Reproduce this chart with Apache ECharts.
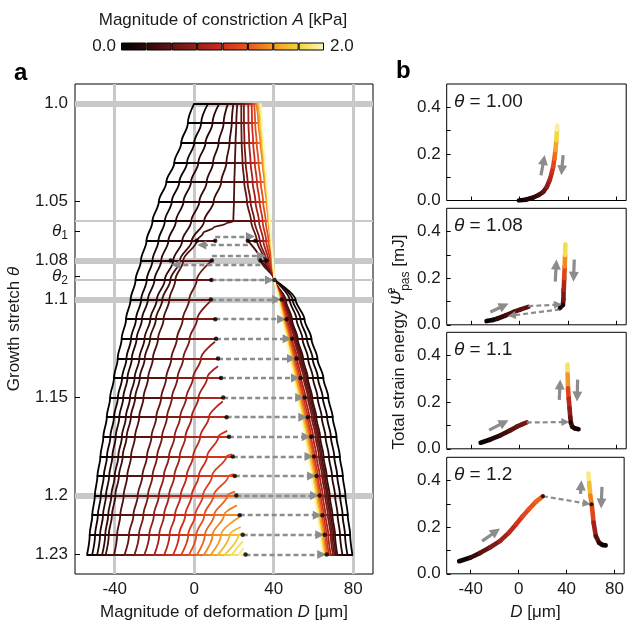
<!DOCTYPE html>
<html><head><meta charset="utf-8">
<script src="https://cdn.jsdelivr.net/npm/echarts@6.0.0/dist/echarts.min.js"></script>
<style>html,body{margin:0;padding:0;background:#fff;}#chart{width:627px;height:626px;}</style>
</head><body><div id="chart"></div>
<script>
const FONT = '"Liberation Sans", Arial, Helvetica, sans-serif';

// ---------------- colour scale (A in kPa) ----------------
const cmapA = [0, 0.25, 0.5, 0.75, 1.0, 1.25, 1.5, 1.75, 2.0];
const cmapHex = ['#000000', '#2e0908', '#621512', '#9a2019', '#d02c1c', '#e8561c', '#f39a24', '#f3d534', '#fbf6be'];
const cbEdges = [0, 0.25, 0.5, 0.75, 1.0, 1.25, 1.5, 1.75, 2.0];

// ---------------- panel a : rows of growth stretch ----------------
const thetaRows = [1.00,1.01,1.02,1.03,1.04,1.05,1.06,1.07,1.08,1.09,1.10,1.11,1.12,1.13,1.14,1.15,1.16,1.17,1.18,1.19,1.20,1.21,1.22,1.23];

// left / upper branch: one curve per constriction magnitude A
const leftA = [0, 0.1, 0.2, 0.27, 0.33, 0.4, 0.5, 0.6, 0.7, 0.8, 0.9, 1.0, 1.1, 1.2, 1.3, 1.4, 1.5, 1.6, 1.7, 1.8, 1.9];
const leftStart = [0, 0, 0, 0, 0, 0, 9, 11, 13, 14, 16, 17, 18, 19, 20, 21, 22, 22, 22, 23, 23];
const leftTip = [null, null, null, null, null, null,
  [8.5, 1.0805], [8.0, 1.101], [10.5, 1.1215], [12.0, 1.134], [14.4, 1.152], [16.6, 1.167], [18.9, 1.179],
  [19.9, 1.189], [20.6, 1.198], [21.5, 1.205], [22.6, 1.211], [23.4, 1.216], [23.9, 1.2195], [24.4, 1.2233], [24.9, 1.2267]];
const leftD = [
  [0, -3.2, -6.5, -10, -14, -17.8, -21, -24, -26.8, -29.5, -32, -34.3, -36.5, -38.5, -40.4, -42.3, -44, -45.7, -47.2, -48.7, -50, -51.3, -52.6, -53.9],
  [7, 3.5, 0, -3.6, -7.5, -11.3, -14.8, -18, -21, -23.9, -26.7, -29.3, -31.8, -34.1, -36.3, -38.4, -40.4, -42.2, -43.9, -45.5, -47, -48.5, -49.9, -51.3],
  [12.6, 9.2, 5.7, 2.1, -1.6, -5.4, -9.2, -13, -16.6, -20, -23.3, -26.3, -29, -31.4, -33.6, -35.7, -37.7, -39.5, -41.2, -42.8, -44.4, -45.9, -47.4, -48.8],
  [17, 14.8, 12.3, 9.5, 6.3, 2.6, -1.5, -6, -10.5, -14.8, -18.8, -22.1, -25, -27.6, -30, -32.3, -34.4, -36.4, -38.2, -40, -41.7, -43.3, -44.8, -46.3],
  [19.7, 18.9, 17.8, 16.2, 13.6, 9.8, 5, -1.2, -7.2, -12, -16, -19.3, -22.2, -24.9, -27.4, -29.7, -31.9, -34, -36, -37.9, -39.7, -41.4, -43, -44.5],
  [21.7, 21.2, 20.8, 20.5, 20.2, 20, 19.7, 1.3, -5.5, -9.5, -12.5, -15.4, -18.2, -20.8, -23.2, -25.5, -27.7, -29.8, -31.8, -33.7, -35.5, -37.2, -38.8, -40.3],
  [1.3, -2.5, -5.75, -8.7, -11.5, -14.1, -16.6, -19.1, -21.5, -23.8, -26.1, -28.4, -30.6, -32.8, -35],
  [1.5, -2.3, -5.5, -8.4, -11.2, -13.7, -16.2, -18.7, -21, -23.3, -25.6, -27.8, -30],
  [3.4, -0.6, -4.0, -7.1, -9.9, -12.7, -15.3, -17.8, -20.3, -22.6, -25],
  [6.5, 2.2, -1.3, -4.4, -7.3, -10, -12.7, -15.2, -17.6, -20],
  [7.4, 3.0, -0.6, -3.8, -6.8, -9.7, -12.4, -15],
  [12.2, 6.5, 2.3, -1.3, -4.5, -7.6, -10.5],
  [16.2, 9.0, 4.4, 0.5, -3.0, -6.4],
  [17.2, 9.8, 5.1, 1.1, -2.5],
  [16.7, 10.0, 5.4, 1.5],
  [15.0, 9.3, 5.0],
  [13.5, 8.5],
  [17.8, 12],
  [22.3, 15.5],
  [19],
  [22.5]
];
const bendCurve = 5;
const bendPts = [[16, 1.0612], [9.6, 1.0633], [4.5, 1.066]];

// right branch
const rightA = [0, 0.1, 0.2, 0.3, 0.4, 0.5, 0.6, 0.8, 1.0, 1.2, 1.4, 1.6, 1.8, 2.0];
const rightStart = [9, 9, 9, 8, 7, 0, 0, 0, 0, 0, 0, 0, 0, 0];
const rightD = [
  [40.4, 51, 55.5, 59, 62, 65, 67.5, 69.7, 71.6, 73.3, 74.8, 76.1, 77.3, 78.5, 79.6],
  [40.4, 49.5, 53.5, 56.7, 59.6, 62.3, 64.7, 66.9, 68.8, 70.5, 72, 73.4, 74.7, 75.9, 77.1],
  [40.4, 48, 51.5, 54.5, 57.3, 59.8, 62.1, 64.2, 66.1, 67.8, 69.4, 70.9, 72.2, 73.4, 74.6],
  [33.3, 40.4, 46, 49.2, 52.1, 54.8, 57.2, 59.4, 61.5, 63.4, 65.1, 66.7, 68.2, 69.6, 70.9, 72],
  [27, 33.5, 40.4, 45.6, 48.7, 51.5, 54.1, 56.5, 58.7, 60.7, 62.6, 64.3, 65.9, 67.4, 68.8, 70.2, 71.3],
  [23.7, 23.72, 23.88, 24.32, 25.17, 26.56, 28.64, 31.55, 35.42, 40.4, 45.3, 48.2, 50.9, 53.5, 55.8, 57.9, 60.0, 61.9, 63.6, 65.2, 66.7, 68.1, 69.4, 70.6],
  [25, 25.05, 25.31, 25.89, 26.86, 28.34, 30.37, 33.01, 36.33, 40.4, 44.9, 47.7, 50.4, 52.8, 55.1, 57.2, 59.2, 61.1, 62.8, 64.4, 65.9, 67.3, 68.7, 69.8],
  [27.2, 27.31, 27.68, 28.37, 29.42, 30.82, 32.61, 34.8, 37.39, 40.4, 44.3, 47.0, 49.4, 51.8, 53.9, 56.0, 58.0, 59.9, 61.6, 63.2, 64.7, 66.1, 67.5, 68.7],
  [28.9, 29.12, 29.67, 30.49, 31.57, 32.89, 34.44, 36.21, 38.2, 40.4, 43.9, 46.4, 48.7, 51.0, 53.1, 55.1, 57.1, 58.9, 60.6, 62.2, 63.7, 65.2, 66.6, 67.8],
  [30.2, 30.67, 31.44, 32.39, 33.47, 34.68, 35.98, 37.38, 38.85, 40.4, 43.6, 45.9, 48.2, 50.3, 52.4, 54.4, 56.3, 58.2, 59.9, 61.5, 63.0, 64.4, 65.8, 67.1],
  [31.3, 32.31, 33.32, 34.33, 35.34, 36.36, 37.37, 38.38, 39.39, 40.4, 43.2, 45.4, 47.6, 49.7, 51.7, 53.7, 55.7, 57.5, 59.2, 60.8, 62.3, 63.8, 65.1, 66.5],
  [32.2, 33.11, 34.02, 34.93, 35.84, 36.76, 37.67, 38.58, 39.49, 40.4, 42.9, 45.0, 47.2, 49.2, 51.2, 53.1, 55.0, 56.9, 58.6, 60.2, 61.7, 63.1, 64.5, 65.9],
  [32.8, 33.64, 34.49, 35.33, 36.18, 37.02, 37.87, 38.71, 39.56, 40.4, 42.7, 44.6, 46.7, 48.7, 50.6, 52.5, 54.4, 56.2, 57.9, 59.5, 61.0, 62.5, 63.9, 65.3],
  [33.4, 34.18, 34.96, 35.73, 36.51, 37.29, 38.07, 38.84, 39.62, 40.4, 42.4, 44.3, 46.3, 48.2, 50.1, 52, 53.9, 55.7, 57.4, 59, 60.5, 62, 63.4, 64.8]
];

// folds and jumps (rows 1.07 ... 1.23)
const foldStartRow = 7;
const foldD = [10.6, 8.9, 8.6, 8.4, 10.6, 11, 12, 13.5, 14.6, 16.3, 17.5, 19.4, 20.4, 21.2, 22.9, 24.4, 25.8];
const foldA = [0.45, 0.5, 0.55, 0.6, 0.65, 0.7, 0.76, 0.82, 0.88, 0.95, 1.02, 1.1, 1.2, 1.32, 1.48, 1.7, 2.0];
const landD = [30.8, 36.4, 40.4, 44, 46.5, 49.3, 51.5, 53.5, 55.6, 57.2, 58.9, 60.3, 61.6, 63.1, 64.5, 65.7, 66.7];
const backRows = [7, 8];
const backFromD = [27, 33.3];
const backToD = [1.3, -11.8];

// reference lines and axis ticks
const gridD = [-40, 0, 40, 80];
const thickTheta = [1.0, 1.08, 1.1, 1.2];
const thinTheta = [1.065, 1.088];
const yTickVals = [1.0, 1.05, 1.065, 1.08, 1.088, 1.1, 1.15, 1.2, 1.23];
const yTickText = ['1.0', '1.05', 'θ1', '1.08', 'θ2', '1.1', '1.15', '1.2', '1.23'];
const xTickVals = [-40, 0, 40, 80];

// ---------------- panel b : strain energy ----------------
const bTitles = ['1.00', '1.08', '1.1', '1.2'];
const bYTicks = [0, 0.1, 0.2, 0.3, 0.4];
const bYLabels = [0, 0.2, 0.4];
const b1Curve = [[-0.5,0.000,0],[5,0.003,0.1],[11.4,0.013,0.2],[16,0.024,0.3],[19.6,0.037,0.42],[22.5,0.058,0.6],[25,0.089,0.8],[26.7,0.12,0.95],[27.8,0.145,1.1],[28.8,0.18,1.25],[29.7,0.217,1.45],[30.4,0.26,1.65],[31,0.305,1.9],[31.2,0.322,2.0]];
const b2Left = [[-27.2,0.016,0],[-22,0.021,0.1],[-18.5,0.026,0.2],[-11.5,0.040,0.3],[-4.9,0.055,0.4],[1,0.066,0.45],[7.3,0.077,0.5]];
const b2Right = [[33.3,0.072,0.3],[35.8,0.085,0.4],[36.2,0.11,0.5],[36.5,0.15,0.7],[36.9,0.2,1.0],[37.3,0.25,1.3],[37.6,0.3,1.6],[37.9,0.345,2.0]];
const b3Left = [[-32,0.026,0],[-24,0.04,0.1],[-15.7,0.058,0.25],[-8,0.078,0.4],[-2.2,0.095,0.5],[2.5,0.106,0.55],[6,0.113,0.6]];
const b3Right = [[39.5,0.362,2.0],[39.7,0.32,1.7],[40,0.26,1.3],[40.6,0.215,1.0],[41.3,0.174,0.8],[41.9,0.135,0.6],[42.5,0.11,0.45],[43.5,0.095,0.3],[45.5,0.088,0.2],[48.7,0.084,0]];
const b4Left = [[-49.6,0.054,0],[-40,0.07,0.2],[-32,0.09,0.4],[-24,0.113,0.55],[-15.7,0.14,0.7],[-8,0.177,0.85],[-2.1,0.213,1.0],[3,0.245,1.1],[8.7,0.278,1.2],[14.5,0.31,1.27],[20.2,0.333,1.32]];
const b4Right = [[58.2,0.43,2.0],[58.8,0.39,1.8],[59.8,0.336,1.5],[61.1,0.293,1.32],[62.5,0.22,1.0],[64.4,0.162,0.6],[67.1,0.133,0.3],[70,0.124,0.1],[72.6,0.122,0]];
const bDashed = [
  [],
  [[[7.3,0.080],[35.8,0.088]], [[33.3,0.066],[-10.4,0.037]]],
  [[[6,0.113],[42,0.115]]],
  [[[20.2,0.333],[60.8,0.298]]]
];
const bDots = [[], [[33.3,0.072],[35.8,0.085]], [[42,0.115]], [[20.2,0.333],[60.8,0.298]]];
const bArrows = [
  [[[17.7,0.108],[20.8,0.195]], [[36,0.195],[34.5,0.108]]],
  [[[-24,0.055],[-9,0.091]], [[29.5,0.185],[30.5,0.28]], [[45.2,0.28],[44.5,0.185]]],
  [[[-25,0.08],[-9,0.123]], [[32.8,0.21],[33.6,0.297]], [[48,0.297],[47.4,0.203]]],
  [[[-30.5,0.14],[-15.6,0.194]], [[51.6,0.343],[52.4,0.401]], [[69.5,0.373],[68.8,0.28]]]
];

// ---------------- helpers ----------------
function hexRgb(h){return [parseInt(h.slice(1,3),16),parseInt(h.slice(3,5),16),parseInt(h.slice(5,7),16)];}
function colorOf(a){
  a = Math.max(0, Math.min(2, a));
  for (let k = 0; k < cmapA.length - 1; k++) {
    if (a <= cmapA[k+1]) {
      const t = (a - cmapA[k]) / (cmapA[k+1] - cmapA[k]);
      const p = hexRgb(cmapHex[k]), q = hexRgb(cmapHex[k+1]);
      return 'rgb(' + p.map((v,i)=>Math.round(v + (q[i]-v)*t)).join(',') + ')';
    }
  }
  return cmapHex[cmapHex.length-1];
}
function valAt(start, vals, i){const k = i - start; return (k >= 0 && k < vals.length) ? vals[k] : null;}
function shorten(p0, p1, sx, sy, px){
  const dx = (p1[0]-p0[0])*sx, dy = (p1[1]-p0[1])*sy, L = Math.hypot(dx, dy);
  const f = L > 0 ? Math.max(0, (L - px) / L) : 1;
  return [p0, [p0[0] + (p1[0]-p0[0])*f, p0[1] + (p1[1]-p0[1])*f]];
}

// panel geometry
const GA = {left: 75, top: 84, width: 298, height: 490};
const XA = {min: -60, max: 90};
const YA = {min: 0.99, max: 1.24};
const SXA = GA.width / (XA.max - XA.min), SYA = GA.height / (YA.max - YA.min);
const bTops = [84, 208.3, 332.3, 457.3];
const GB = {left: 446.7, width: 179.5, height: 116.5};
const XB = {min: -60, max: 88};
const SXB = GB.width / (XB.max - XB.min), SYB = GB.height / 0.5;

const series = [];
// grey reference lines
series.push({
  type: 'line', xAxisIndex: 0, yAxisIndex: 0, data: [], silent: true, z: 1,
  markLine: {
    silent: true, symbol: ['none', 'none'], z: 1, animation: false, label: {show: false},
    emphasis: {disabled: true},
    data: [
      ...gridD.map(v => ({xAxis: v, lineStyle: {color: '#c8c8c8', width: 3, type: 'solid'}})),
      ...thickTheta.map(v => ({yAxis: v, lineStyle: {color: '#c8c8c8', width: 6, type: 'solid'}})),
      ...thinTheta.map(v => ({yAxis: v, lineStyle: {color: '#c8c8c8', width: 2, type: 'solid'}}))
    ]
  }
});

// mesh rows (fixed growth stretch), each segment coloured by A
const rowSegs = [];
function addSegs(list, th){
  list.sort((p, q) => p.a - q.a);
  for (let k = 0; k < list.length - 1; k++) {
    const p = list[k], q = list[k+1];
    rowSegs.push({coords: [[p.d, th], [q.d, th]], lineStyle: {color: colorOf((p.a + q.a) / 2)}});
  }
}
thetaRows.forEach((th, i) => {
  const L = [], R = [];
  leftA.forEach((a, k) => {const d = valAt(leftStart[k], leftD[k], i); if (d !== null) L.push({a, d});});
  rightA.forEach((a, k) => {const d = valAt(rightStart[k], rightD[k], i); if (d !== null) R.push({a, d});});
  if (i < foldStartRow) { addSegs(L.concat(R), th); }
  else {
    L.push({a: foldA[i - foldStartRow], d: foldD[i - foldStartRow]});
    addSegs(L, th); addSegs(R, th);
  }
});
series.push({
  type: 'lines', coordinateSystem: 'cartesian2d', xAxisIndex: 0, yAxisIndex: 0, polyline: false,
  data: rowSegs, symbol: ['none', 'none'], silent: true, z: 3,
  lineStyle: {width: 1.9, opacity: 1, cap: 'round'}
});

// fixed-A curves, left/upper branch
leftA.forEach((a, k) => {
  const pts = [];
  if (leftTip[k]) pts.push(leftTip[k].slice());
  leftD[k].forEach((d, m) => pts.push([d, thetaRows[leftStart[k] + m]]));
  if (k === bendCurve) { pts.push(...bendPts.map(p => p.slice())); pts.sort((p, q) => p[1] - q[1]); }
  series.push({
    type: 'line', xAxisIndex: 0, yAxisIndex: 0, data: pts, showSymbol: false, silent: true,
    smooth: 0.35, smoothMonotone: 'y', z: 3,
    lineStyle: {color: colorOf(a), width: 1.8}
  });
});
// fixed-A curves, right branch
rightA.forEach((a, k) => {
  const pts = rightD[k].map((d, m) => [d, thetaRows[rightStart[k] + m]]);
  series.push({
    type: 'line', xAxisIndex: 0, yAxisIndex: 0, data: pts, showSymbol: false, silent: true,
    smooth: 0.3, smoothMonotone: 'y', z: 3,
    lineStyle: {color: colorOf(a), width: 1.8}
  });
});

// jump arrows and dots in panel a
const arrowsA = [], dotsA = [];
foldD.forEach((d, m) => {
  const i = foldStartRow + m, th = thetaRows[i];
  const hyst = backRows.indexOf(i) >= 0;
  const y = hyst ? th - 0.0022 : th;
  arrowsA.push({coords: shorten([d, y], [landD[m], y], SXA, SYA, 5)});
  dotsA.push([d, th], [landD[m], th]);
});
backRows.forEach((i, m) => {
  const th = thetaRows[i], y = th + 0.0022;
  arrowsA.push({coords: shorten([backFromD[m], y], [backToD[m], y], SXA, SYA, 5)});
  dotsA.push([backFromD[m], th], [backToD[m], th]);
});
series.push({
  type: 'lines', coordinateSystem: 'cartesian2d', xAxisIndex: 0, yAxisIndex: 0, polyline: false,
  data: arrowsA, symbol: ['none', 'triangle'], symbolSize: 9, silent: true, z: 5,
  lineStyle: {color: '#8c8c8c', width: 2.3, type: [5, 3], opacity: 1}
});
series.push({
  type: 'scatter', xAxisIndex: 0, yAxisIndex: 0, data: dotsA, symbolSize: 4.5, silent: true, z: 6,
  itemStyle: {color: '#000'}
});

// ---------------- panel b series ----------------
const bCurves = [[b1Curve], [b2Left, b2Right], [b3Left, b3Right], [b4Left, b4Right]];
bCurves.forEach((curves, p) => {
  const segs = [];
  curves.forEach(c => {
    for (let k = 0; k < c.length - 1; k++) {
      segs.push({coords: [[c[k][0], c[k][1]], [c[k+1][0], c[k+1][1]]], lineStyle: {color: colorOf((c[k][2] + c[k+1][2]) / 2)}});
    }
  });
  series.push({
    type: 'lines', coordinateSystem: 'cartesian2d', xAxisIndex: p + 1, yAxisIndex: p + 1, polyline: false,
    data: segs, symbol: ['none', 'none'], silent: true, z: 3,
    lineStyle: {width: 4.6, opacity: 1, cap: 'round'}
  });
  series.push({
    type: 'lines', coordinateSystem: 'cartesian2d', xAxisIndex: p + 1, yAxisIndex: p + 1, polyline: false,
    data: bDashed[p].map(s => ({coords: shorten(s[0], s[1], SXB, SYB, 5)})),
    symbol: ['none', 'triangle'], symbolSize: 8, silent: true, z: 5,
    lineStyle: {color: '#8c8c8c', width: 2.2, type: [5, 3], opacity: 1}
  });
  series.push({
    type: 'lines', coordinateSystem: 'cartesian2d', xAxisIndex: p + 1, yAxisIndex: p + 1, polyline: false,
    data: bArrows[p].map(s => ({coords: shorten(s[0], s[1], SXB, SYB, 5)})),
    symbol: ['none', 'triangle'], symbolSize: 10, silent: true, z: 5,
    lineStyle: {color: '#8c8c8c', width: 3.2, type: 'solid', opacity: 1}
  });
  series.push({
    type: 'scatter', xAxisIndex: p + 1, yAxisIndex: p + 1, data: bDots[p], symbolSize: 4, silent: true, z: 6,
    itemStyle: {color: '#000'}
  });
});

// ---------------- colour bar ----------------
for (let k = 0; k < cbEdges.length - 1; k++) {
  series.push({
    type: 'bar', xAxisIndex: 5, yAxisIndex: 5, stack: 'cb', data: [cbEdges[k+1] - cbEdges[k]],
    barWidth: '100%', silent: true, z: 2,
    itemStyle: {
      color: new echarts.graphic.LinearGradient(0, 0, 1, 0, [
        {offset: 0, color: colorOf(cbEdges[k])}, {offset: 1, color: colorOf(cbEdges[k+1])}
      ]),
      borderColor: '#000', borderWidth: 1
    }
  });
}

// ---------------- axes ----------------
const txt = {fontFamily: FONT, color: '#1a1a1a'};
const grids = [
  {left: GA.left, top: GA.top, width: GA.width, height: GA.height, show: true, borderColor: '#000', borderWidth: 1, backgroundColor: 'rgba(0,0,0,0)'}
];
bTops.forEach(t => grids.push({left: GB.left, top: t, width: GB.width, height: GB.height, show: true, borderColor: '#000', borderWidth: 1, backgroundColor: 'rgba(0,0,0,0)'}));
grids.push({left: 121, top: 42.5, width: 203, height: 8});

const xAxes = [{
  type: 'value', gridIndex: 0, min: XA.min, max: XA.max,
  axisLine: {show: false, onZero: false}, splitLine: {show: false}, axisTick: {show: false},
  axisLabel: {customValues: xTickVals, fontSize: 17, margin: 7, ...txt},
  name: 'Magnitude of deformation {i|D} [μm]', nameLocation: 'middle', nameGap: 30,
  nameTextStyle: {fontSize: 17, ...txt, rich: {i: {fontStyle: 'italic', fontSize: 17, fontFamily: FONT, color: '#1a1a1a'}}}
}];
const yAxes = [{
  type: 'value', gridIndex: 0, min: YA.min, max: YA.max, inverse: true,
  axisLine: {show: false, onZero: false}, splitLine: {show: false},
  axisTick: {show: true, inside: true, length: 5, customValues: yTickVals, lineStyle: {color: '#000', width: 1}},
  axisLabel: {
    customValues: yTickVals, fontSize: 17, margin: 7, ...txt,
    formatter: v => {
      const k = yTickVals.findIndex(t => Math.abs(t - v) < 1e-6);
      const s = k >= 0 ? yTickText[k] : '';
      if (s.charAt(0) === 'θ') return '{t|θ}{s|' + s.slice(1) + '}';
      return s;
    },
    rich: {
      t: {fontStyle: 'italic', fontSize: 17, fontFamily: FONT, color: '#1a1a1a', lineHeight: 22, verticalAlign: 'middle'},
      s: {fontSize: 12, fontFamily: FONT, color: '#1a1a1a', lineHeight: 22, verticalAlign: 'bottom'}
    }
  },
  name: 'Growth stretch {i|θ}', nameLocation: 'middle', nameGap: 52, nameRotate: 90,
  nameTextStyle: {fontSize: 17, ...txt, rich: {i: {fontStyle: 'italic', fontSize: 17, fontFamily: FONT, color: '#1a1a1a'}}}
}];
for (let p = 0; p < 4; p++) {
  const last = p === 3;
  xAxes.push({
    type: 'value', gridIndex: p + 1, min: XB.min, max: XB.max,
    axisLine: {show: false, onZero: false}, splitLine: {show: false},
    axisTick: {show: true, inside: true, length: 4, customValues: xTickVals, lineStyle: {color: '#000'}},
    axisLabel: {show: last, customValues: xTickVals, fontSize: 17, margin: 7, ...txt},
    name: last ? '{i|D} [μm]' : '', nameLocation: 'middle', nameGap: 30,
    nameTextStyle: {fontSize: 17, ...txt, rich: {i: {fontStyle: 'italic', fontSize: 17, fontFamily: FONT, color: '#1a1a1a'}}}
  });
  yAxes.push({
    type: 'value', gridIndex: p + 1, min: 0, max: 0.5,
    axisLine: {show: false, onZero: false}, splitLine: {show: false},
    axisTick: {show: true, inside: true, length: 4, customValues: bYTicks, lineStyle: {color: '#000'}},
    axisLabel: {customValues: bYLabels, formatter: v => v.toFixed(1), fontSize: 17, margin: 6, ...txt}
  });
}
xAxes.push({type: 'value', gridIndex: 5, min: 0, max: 2, show: false});
yAxes.push({type: 'category', gridIndex: 5, data: ['cb'], show: false});

// ---------------- texts ----------------
const graphic = [
  {type: 'text', x: 223, y: 20, silent: true, style: {text: 'Magnitude of constriction {i|A} [kPa]', fontSize: 17, fontFamily: FONT, fill: '#1a1a1a', align: 'center', verticalAlign: 'middle',
    rich: {i: {fontStyle: 'italic', fontSize: 17, fontFamily: FONT, fill: '#1a1a1a'}}}},
  {type: 'text', x: 116, y: 46.5, silent: true, style: {text: '0.0', fontSize: 17, fontFamily: FONT, fill: '#1a1a1a', align: 'right', verticalAlign: 'middle'}},
  {type: 'text', x: 330, y: 46.5, silent: true, style: {text: '2.0', fontSize: 17, fontFamily: FONT, fill: '#1a1a1a', align: 'left', verticalAlign: 'middle'}},
  {type: 'text', x: 14, y: 61, silent: true, style: {text: 'a', fontSize: 24, fontWeight: 'bold', fontFamily: FONT, fill: '#000', align: 'left', verticalAlign: 'top'}},
  {type: 'text', x: 396, y: 59, silent: true, style: {text: 'b', fontSize: 24, fontWeight: 'bold', fontFamily: FONT, fill: '#000', align: 'left', verticalAlign: 'top'}},
  {type: 'text', x: 399, y: 342, rotation: Math.PI / 2, silent: true, style: {
    text: 'Total strain energy {ps|Ψ}{e|e}{p|pas} [mJ]', fontSize: 17, fontFamily: FONT, fill: '#1a1a1a', align: 'center', verticalAlign: 'middle',
    rich: {
      ps: {fontStyle: 'italic', fontSize: 18, fontFamily: FONT, fill: '#1a1a1a', lineHeight: 26, verticalAlign: 'middle'},
      e: {fontSize: 12, fontFamily: FONT, fill: '#1a1a1a', lineHeight: 26, verticalAlign: 'top', width: 0},
      p: {fontSize: 12, fontFamily: FONT, fill: '#1a1a1a', lineHeight: 26, verticalAlign: 'bottom'}
    }}}
];
bTops.forEach((t, p) => graphic.push({
  type: 'text', x: 454, y: t + 8, silent: true,
  style: {text: '{i|θ} = ' + bTitles[p], fontSize: 19, fontFamily: FONT, fill: '#1a1a1a', align: 'left', verticalAlign: 'top',
    rich: {i: {fontStyle: 'italic', fontSize: 19, fontFamily: FONT, fill: '#1a1a1a'}}}
}));

const chart = echarts.init(document.getElementById('chart'), null, {renderer: 'canvas'});
chart.setOption({
  animation: false,
  backgroundColor: '#ffffff',
  textStyle: {fontFamily: FONT},
  grid: grids, xAxis: xAxes, yAxis: yAxes,
  series: series, graphic: graphic
});
</script></body></html>
